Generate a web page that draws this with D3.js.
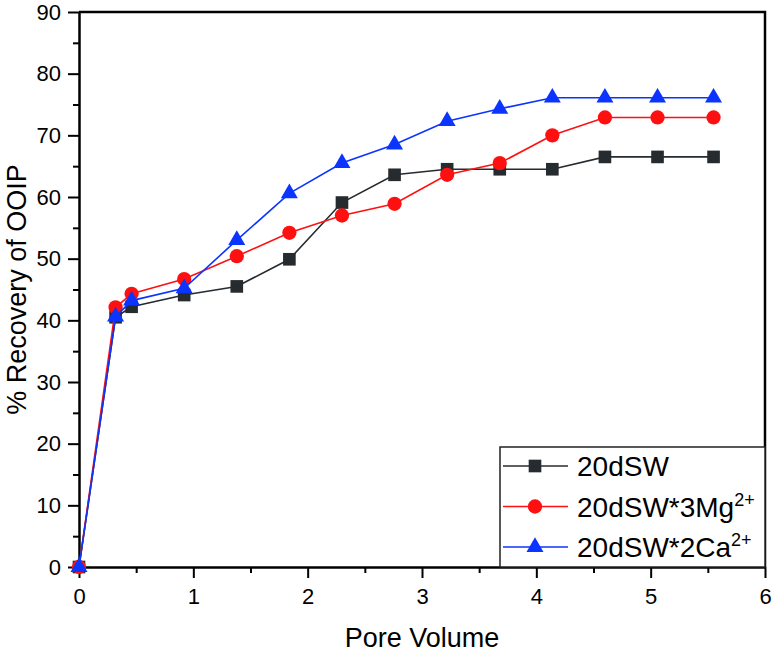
<!DOCTYPE html>
<html>
<head>
<meta charset="utf-8">
<script src="https://cdn.jsdelivr.net/npm/d3@7"></script>
<style>
  body { margin: 0; background: #fff; }
  svg { font-family: "Liberation Sans", Arial, sans-serif; }
  .axis path, .axis line { stroke: #000; }
  .axis text { font-size: 22px; fill: #000; font-family: "Liberation Sans", Arial, sans-serif; }
</style>
</head>
<body>
<svg id="chart" width="774" height="652"></svg>
<script>
// pore volume injected (shared x for all series)
const poreVolume = [0, 0.32, 0.46, 0.92, 1.38, 1.84, 2.3, 2.76, 3.22, 3.68, 4.14, 4.6, 5.06, 5.55];

// % recovery of OOIP per brine
const recovery20dSW = [0, 40.5, 42.2, 44.1, 45.5, 49.9, 59.1, 63.6, 64.5, 64.5, 64.5, 66.5, 66.5, 66.5];
const recoveryMg = [0, 42.1, 44.3, 46.7, 50.4, 54.2, 57.0, 58.9, 63.6, 65.5, 70.0, 72.9, 72.9, 72.9];
const recoveryCa = [0, 40.6, 43.2, 45.2, 53.0, 60.6, 65.5, 68.5, 72.3, 74.3, 76.1, 76.1, 76.1, 76.1];

const seriesNames = ['20dSW', '20dSW*3Mg', '20dSW*2Ca'];
const seriesSup = ['', '2+', '2+'];

const xTicks = [0, 1, 2, 3, 4, 5, 6];
const yTicks = [0, 10, 20, 30, 40, 50, 60, 70, 80, 90];

const svg = d3.select('#chart');
const plotLeft = 79, plotRight = 765, plotTop = 12, plotBottom = 567;

const x = d3.scaleLinear().domain([0, 6]).range([plotLeft, plotRight]);
const y = d3.scaleLinear().domain([0, 90]).range([plotBottom, plotTop]);

const series = [
    { name: seriesNames[0], sup: seriesSup[0], values: recovery20dSW, color: '#262b2f', symbol: d3.symbolSquare, size: 160 },
    { name: seriesNames[1], sup: seriesSup[1], values: recoveryMg, color: '#ff1010', symbol: d3.symbolCircle, size: 160 },
    { name: seriesNames[2], sup: seriesSup[2], values: recoveryCa, color: '#0b35ff', symbol: d3.symbolTriangle, size: 125 }
];

// frame top/right
svg.append('path')
    .attr('d', `M${plotLeft},${plotTop}H${plotRight}V${plotBottom}`)
    .attr('fill', 'none')
    .attr('stroke', '#000')
    .attr('stroke-width', 2.5);

// minor ticks
svg.append('g')
    .attr('class', 'axis')
    .attr('transform', `translate(${plotLeft},0)`)
    .call(d3.axisLeft(y).tickValues(d3.range(5, 90, 10)).tickSize(6).tickFormat(''))
    .call(g => g.select('.domain').remove())
    .selectAll('line').attr('stroke-width', 2);

svg.append('g')
    .attr('class', 'axis')
    .attr('transform', `translate(0,${plotBottom})`)
    .call(d3.axisBottom(x).tickValues(d3.range(0.5, 6, 1)).tickSize(6).tickFormat(''))
    .call(g => g.select('.domain').remove())
    .selectAll('line').attr('stroke-width', 2);

// major axes
let yAxis = svg.append('g')
    .attr('class', 'axis')
    .attr('transform', `translate(${plotLeft},0)`)
    .call(d3.axisLeft(y).tickValues(yTicks).tickSize(11).tickSizeOuter(0).tickPadding(7).tickFormat(d3.format('d')));
yAxis.select('.domain').attr('stroke-width', 2.5);
yAxis.selectAll('line').attr('stroke-width', 2);

let xAxis = svg.append('g')
    .attr('class', 'axis')
    .attr('transform', `translate(0,${plotBottom})`)
    .call(d3.axisBottom(x).tickValues(xTicks).tickSize(11).tickSizeOuter(0).tickPadding(10).tickFormat(d3.format('d')));
xAxis.select('.domain').attr('stroke-width', 2.5);
xAxis.selectAll('line').attr('stroke-width', 2);

// axis titles
svg.append('text')
    .attr('x', (plotLeft + plotRight) / 2)
    .attr('y', 647)
    .attr('text-anchor', 'middle')
    .attr('font-size', 27)
    .text('Pore Volume');

svg.append('text')
    .attr('transform', `translate(26,${(plotTop + plotBottom) / 2}) rotate(-90)`)
    .attr('text-anchor', 'middle')
    .attr('font-size', 27)
    .text('% Recovery of OOIP');

// lines + markers
const line = d3.line()
    .x((d, i) => x(poreVolume[i]))
    .y(d => y(d));

series.forEach(s => {
    svg.append('path')
        .datum(s.values)
        .attr('fill', 'none')
        .attr('stroke', s.color)
        .attr('stroke-width', 1.6)
        .attr('d', line);

    svg.append('g').selectAll('path')
        .data(s.values)
        .enter().append('path')
        .attr('d', d3.symbol().type(s.symbol).size(s.size))
        .attr('transform', (d, i) => `translate(${x(poreVolume[i])},${y(d)})`)
        .attr('fill', s.color);
});

// legend
const legendLeft = 500, legendTop = 447;
svg.append('rect')
    .attr('x', legendLeft)
    .attr('y', legendTop)
    .attr('width', plotRight - legendLeft)
    .attr('height', plotBottom - legendTop)
    .attr('fill', '#fff')
    .attr('stroke', '#222')
    .attr('stroke-width', 1.5);

series.forEach((s, i) => {
    let rowY = 466 + i * 40.5;
    svg.append('line')
        .attr('x1', 503).attr('x2', 568)
        .attr('y1', rowY).attr('y2', rowY)
        .attr('stroke', s.color)
        .attr('stroke-width', 1.6);
    svg.append('path')
        .attr('d', d3.symbol().type(s.symbol).size(s.size)())
        .attr('transform', `translate(535,${rowY})`)
        .attr('fill', s.color);
    let t = svg.append('text')
        .attr('x', 577)
        .attr('y', rowY + 10)
        .attr('font-size', 28)
        .text(s.name);
    if (s.sup) {
        t.append('tspan')
            .attr('font-size', 18)
            .attr('dy', -11)
            .text(s.sup);
    }
});
</script>
</body>
</html>
